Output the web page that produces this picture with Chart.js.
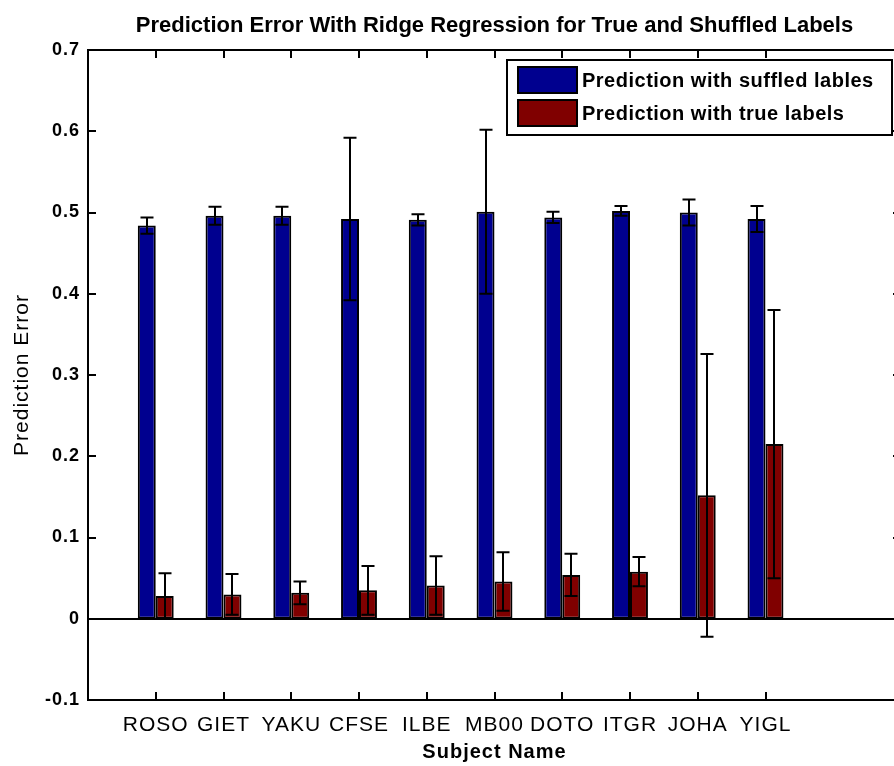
<!DOCTYPE html>
<html>
<head>
<meta charset="utf-8">
<script src="https://cdn.jsdelivr.net/npm/chart.js@4/dist/chart.umd.min.js"></script>
<style>
html,body{margin:0;padding:0;background:#fff;overflow:hidden;}
#wrap{width:894px;height:766px;overflow:hidden;}
canvas{display:block;}
</style>
</head>
<body>
<div id="wrap"><canvas id="c" width="904" height="766"></canvas></div>
<script>
const chartTitle = 'Prediction Error With Ridge Regression for True and Shuffled Labels';
const subjects = ['ROSO','GIET','YAKU','CFSE','ILBE','MB00','DOTO','ITGR','JOHA','YIGL'];
const shuffledMean = [0.484,0.496,0.496,0.492,0.491,0.501,0.494,0.502,0.500,0.492];
const shuffledErr  = [0.010,0.011,0.011,0.100,0.007,0.101,0.007,0.006,0.016,0.016];
const trueMean     = [0.028,0.030,0.032,0.035,0.041,0.046,0.054,0.058,0.152,0.215];
const trueErr      = [0.028,0.025,0.014,0.030,0.036,0.036,0.026,0.018,0.174,0.165];
const yTicks = [-0.1,0,0.1,0.2,0.3,0.4,0.5,0.6,0.7];
const seriesLabels = ['Prediction with suffled lables','Prediction with true labels'];
const seriesColors = ['#00008f','#800000'];
const errs = [shuffledErr, trueErr];

const toXY = arr => arr.map((v,i)=>({x:i+1,y:v}));

const spacingPlugin = {
  id:'spacing',
  beforeInit(chart){ chart.ctx.letterSpacing = '1px'; },
  beforeUpdate(chart){ chart.ctx.letterSpacing = '1px'; },
  beforeDraw(chart){ chart.ctx.letterSpacing = '1px'; }
};

const boxPlugin = {
  id:'matlabBox',
  beforeDatasetsDraw(chart){
    const {ctx, chartArea:a, scales:{y}} = chart;
    ctx.save();
    ctx.strokeStyle='#000'; ctx.lineWidth=2;
    const y0 = Math.round(y.getPixelForValue(0));
    ctx.beginPath(); ctx.moveTo(a.left,y0); ctx.lineTo(a.right,y0); ctx.stroke();
    ctx.restore();
  },
  afterDatasetsDraw(chart){
    const {ctx, chartArea:a, scales:{x,y}} = chart;
    ctx.save();
    ctx.strokeStyle='#000'; ctx.lineWidth=2;
    // error bars
    chart.data.datasets.forEach((ds,di)=>{
      const meta = chart.getDatasetMeta(di);
      meta.data.forEach((el,i)=>{
        const v = ds.data[i].y, e = errs[di][i];
        const cx = Math.round(el.x);
        const yt = y.getPixelForValue(v+e), yb = y.getPixelForValue(v-e);
        ctx.beginPath();
        ctx.moveTo(cx,yt); ctx.lineTo(cx,yb);
        ctx.moveTo(cx-6.5,yt); ctx.lineTo(cx+6.5,yt);
        ctx.moveTo(cx-6.5,yb); ctx.lineTo(cx+6.5,yb);
        ctx.stroke();
      });
    });
    // axes box
    ctx.strokeRect(a.left,a.top,a.right-a.left,a.bottom-a.top);
    // inward ticks
    const tl = 8;
    ctx.beginPath();
    y.ticks.forEach(t=>{
      const py = Math.round(y.getPixelForValue(t.value));
      ctx.moveTo(a.left,py); ctx.lineTo(a.left+tl,py);
      ctx.moveTo(a.right,py); ctx.lineTo(a.right-tl,py);
    });
    x.ticks.forEach(t=>{
      const px = Math.round(x.getPixelForValue(t.value));
      ctx.moveTo(px,a.bottom); ctx.lineTo(px,a.bottom-tl);
      ctx.moveTo(px,a.top); ctx.lineTo(px,a.top+tl);
    });
    ctx.stroke();
    // title
    ctx.fillStyle='#000';
    ctx.letterSpacing = '0px';
    ctx.font = 'bold 22px "Liberation Sans", Arial, sans-serif';
    ctx.textAlign='center'; ctx.textBaseline='middle';
    ctx.fillText(chartTitle, (a.left+a.right)/2, a.top-24);
    // legend
    const lx = a.left + 419, ly = a.top + 10, lw = 385, lh = 75;
    ctx.fillStyle='#fff';
    ctx.fillRect(lx,ly,lw,lh);
    ctx.strokeRect(lx,ly,lw,lh);
    ctx.letterSpacing = '0.5px';
    ctx.font = 'bold 20px "Liberation Sans", Arial, sans-serif';
    ctx.textBaseline='middle'; ctx.textAlign='left';
    seriesLabels.forEach((lab,k)=>{
      const sy = ly + 7 + k*33;
      ctx.fillStyle = seriesColors[k];
      ctx.fillRect(lx+11,sy,59,26);
      ctx.lineWidth=2; ctx.strokeStyle='#000';
      ctx.strokeRect(lx+11,sy,59,26);
      ctx.fillStyle='#000';
      ctx.fillText(lab, lx+75, sy+14);
    });
    ctx.restore();
  }
};

new Chart(document.getElementById('c'), {
  type:'bar',
  data:{
    datasets:[
      {label:seriesLabels[0], data:toXY(shuffledMean), backgroundColor:seriesColors[0], borderColor:'#000', borderWidth:2, borderSkipped:false, inflateAmount:0},
      {label:seriesLabels[1], data:toXY(trueMean), backgroundColor:seriesColors[1], borderColor:'#000', borderWidth:2, borderSkipped:false, inflateAmount:0}
    ]
  },
  options:{
    responsive:false, animation:false, devicePixelRatio:1,
    layout:{padding:{left:0,right:3,top:50,bottom:0}},
    categoryPercentage:0.53, barPercentage:1.0,
    plugins:{
      legend:{display:false}, tooltip:{enabled:false}, title:{display:false}
    },
    scales:{
      x:{type:'linear', min:0, max:12, offset:false,
        grid:{display:false, drawTicks:false}, border:{display:false},
        afterBuildTicks(s){ s.ticks = subjects.map((_,i)=>({value:i+1})); },
        afterFit(s){ s.height = 66; },
        ticks:{autoSkip:false, maxRotation:0, padding:13, color:'#000',
          font:{family:'"Liberation Sans", Arial, sans-serif', size:21},
          callback:(v)=>subjects[v-1] ?? ''},
        title:{display:true, text:'Subject Name', color:'#000',
          font:{family:'"Liberation Sans", Arial, sans-serif', size:20, weight:'bold'}, padding:{top:0,bottom:2}}
      },
      y:{min:-0.1, max:0.7,
        grid:{display:false, drawTicks:false}, border:{display:false},
        afterBuildTicks(s){ s.ticks = yTicks.map(v=>({value:v})); },
        afterFit(s){ s.width = 88; },
        ticks:{padding:8, color:'#000',
          font:{family:'"Liberation Sans", Arial, sans-serif', size:18, weight:'bold'},
          callback:(v)=> (Math.abs(v)<1e-9 ? '0' : (+v).toFixed(1))},
        title:{display:true, text:'Prediction Error', color:'#000',
          font:{family:'"Liberation Sans", Arial, sans-serif', size:21}, padding:{top:10,bottom:0}}
      }
    }
  },
  plugins:[spacingPlugin, boxPlugin]
});
</script>
</body>
</html>
